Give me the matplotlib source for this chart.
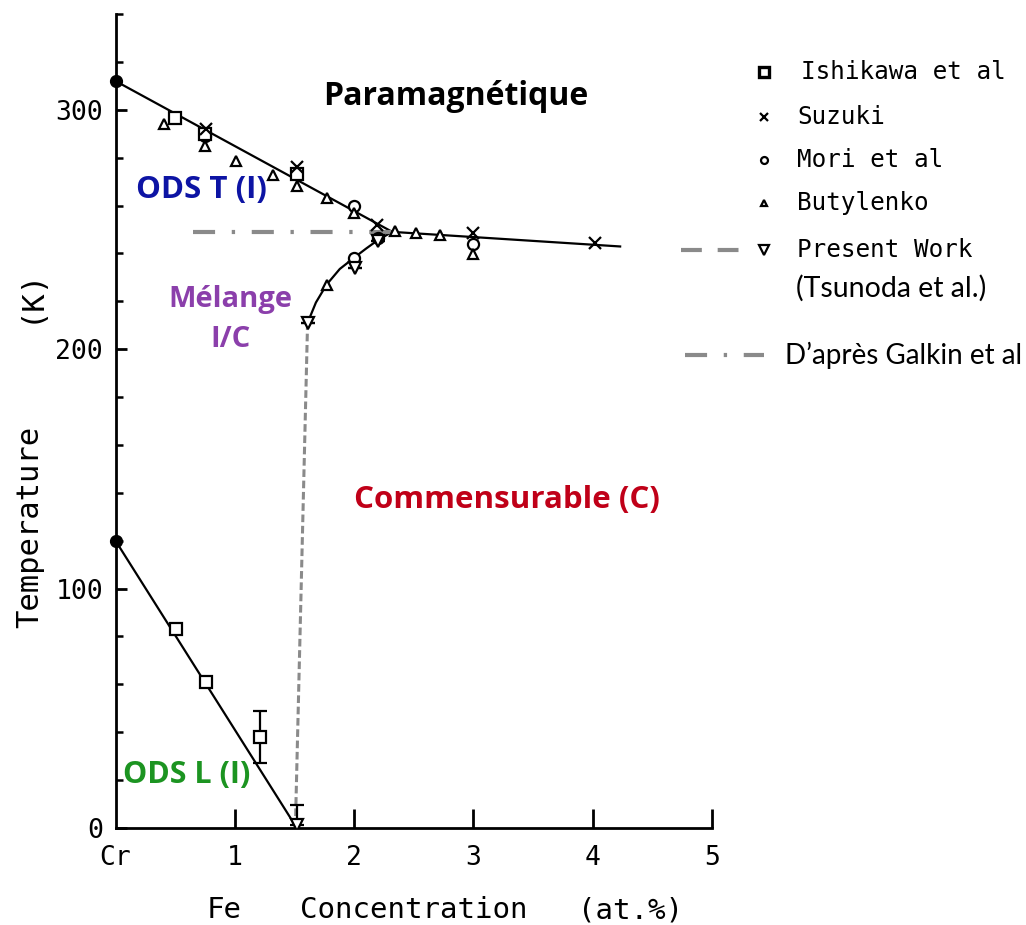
import matplotlib
matplotlib.use("Agg")
import matplotlib.pyplot as plt
from matplotlib.lines import Line2D
from matplotlib.ticker import MultipleLocator, FixedLocator

# ---------------- data ----------------
# Ishikawa et al (open squares)
ishi_x = [0.50, 0.75, 1.52, 0.51, 0.76, 1.21]
ishi_T = [296.6, 290.0, 273.0, 83.0, 61.0, 38.0]
ishi_err = [0, 0, 0, 0, 0, 11.0]
# Suzuki (crosses)
suz_x = [0.76, 1.52, 2.19, 3.00, 4.02]
suz_T = [292.0, 276.0, 252.0, 248.5, 244.3]
# Mori et al (open circles)
mori_x = [0.75, 2.00, 2.00, 2.20, 3.00]
mori_T = [289.0, 259.6, 238.0, 246.4, 244.0]
# Butylenko (open up triangles)
buty_x = [0.41, 0.75, 1.01, 1.32, 1.52, 1.77, 2.00, 2.34, 2.52, 2.72, 3.00, 1.77]
buty_T = [294.0, 285.0, 278.4, 272.9, 268.0, 263.0, 257.0, 249.2, 248.5, 247.8, 239.7, 227.0]
# Present work, Tsunoda et al (open down triangles)
pres_x = [1.61, 2.01, 2.20, 1.52]
pres_T = [211.0, 234.0, 245.0, 1.3]
pres_err_up = [0, 0, 0, 8.5]
# pure Cr end points (filled dots)
cr_x = [0.0, 0.0]
cr_T = [312.0, 120.0]

# phase boundaries
upper_x = [0.0, 2.32]
upper_T = [312.0, 249.0]
flat_x = [2.32, 4.23]
flat_T = [249.0, 242.9]
mix_x = [1.61, 1.68, 1.77, 1.88, 2.00, 2.10, 2.20, 2.32]
mix_T = [211.0, 219.5, 227.0, 233.5, 238.2, 242.0, 245.6, 249.0]
lower_x = [0.0, 1.52]
lower_T = [120.0, 0.0]
# Galkin (dash-dot) and vertical I/C limit (dashed)
galkin_x = [0.65, 2.32]
galkin_T = [249.0, 249.0]
vert_x = [1.51, 1.61]
vert_T = [5.0, 211.0]

yticks_major = [0, 100, 200, 300]
xticks_major = [1, 2, 3, 4, 5]
xtick_labels = ["1", "2", "3", "4", "5"]

legend_labels = ["Ishikawa et al", "Suzuki", "Mori et al", "Butylenko", "Present Work"]

# ---------------- figure ----------------
W, H = 1026, 925
fig = plt.figure(figsize=(W / 100, H / 100), dpi=100)
fig.patch.set_facecolor("white")

def fx(px):
    return px / W

def fy(py):
    return 1 - py / H

ax = fig.add_axes([fx(115.5), fy(828), fx(712) - fx(115.5), fy(14) - fy(828)])
ax.set_xlim(0, 5)
ax.set_ylim(0, 340)

mono = "DejaVu Sans Mono"
bold = "Open Sans"
grey = "#8a8a8a"

ax.spines["top"].set_visible(False)
ax.spines["right"].set_visible(False)
for s in ("left", "bottom"):
    ax.spines[s].set_linewidth(2.0)

ax.yaxis.set_major_locator(FixedLocator(yticks_major))
ax.yaxis.set_minor_locator(MultipleLocator(20))
ax.xaxis.set_major_locator(FixedLocator(xticks_major))
ax.set_xticklabels(xtick_labels)
ax.tick_params(axis="both", which="major", direction="in", length=8, width=2,
               labelsize=19)
ax.tick_params(axis="y", which="minor", direction="in", length=5, width=1.8)
ax.tick_params(axis="x", which="major", length=14, pad=12)
ax.tick_params(axis="y", which="major", pad=9)
for lab in ax.get_xticklabels() + ax.get_yticklabels():
    lab.set_fontfamily(mono)
ax.text(0.0, -0.037, "Cr", transform=ax.get_xaxis_transform(), ha="center",
        va="center", fontsize=19, fontfamily=mono)

# boundaries
lk = dict(color="black", lw=1.6, zorder=2)
ax.plot(upper_x, upper_T, **lk)
ax.plot(flat_x, flat_T, **lk)
ax.plot(mix_x, mix_T, **lk)
ax.plot(lower_x, lower_T, **lk)
ax.plot(galkin_x, galkin_T, color=grey, lw=3.0, dashes=(5.3, 4, 0.8, 4), zorder=3)
ax.plot(vert_x, vert_T, color=grey, lw=2.2, dashes=(2.5, 1.2), zorder=1)

# data points
mk = dict(linestyle="none", markerfacecolor="white", markeredgecolor="black",
          markeredgewidth=1.6, zorder=4)
ax.errorbar(ishi_x, ishi_T, yerr=ishi_err, fmt="s", ms=9, ecolor="black",
            elinewidth=1.6, capsize=5, capthick=1.6, **mk)
ax.plot(suz_x, suz_T, "x", ms=8, color="black", mew=1.6, zorder=5)
ax.plot(mori_x, mori_T, "o", ms=8, **mk)
ax.plot(buty_x, buty_T, "^", ms=7, **mk)
ax.errorbar(pres_x, pres_T, yerr=[[0] * len(pres_x), pres_err_up], fmt="v", ms=8,
            ecolor="black", elinewidth=1.6, capsize=5, capthick=1.6, **mk)
ax.plot(cr_x, cr_T, "o", ms=8.5, color="black", clip_on=False, zorder=6)

# region labels
ax.text(2.85, 305.5, "Paramagnétique", fontsize=23, fontweight="bold",
        fontfamily=bold, color="black", ha="center", va="center")
ax.text(0.72, 266.6, "ODS T (I)", fontsize=22.5, fontweight="bold",
        fontfamily=bold, color="#0d14a4", ha="center", va="center")
ax.text(0.96, 220.6, "Mélange", fontsize=21, fontweight="bold",
        fontfamily=bold, color="#8b3fab", ha="center", va="center")
ax.text(0.96, 204.0, "I/C", fontsize=21, fontweight="bold",
        fontfamily=bold, color="#8b3fab", ha="center", va="center")
ax.text(3.28, 137.0, "Commensurable (C)", fontsize=22.5, fontweight="bold",
        fontfamily=bold, color="#c00018", ha="center", va="center")
ax.text(0.60, 22.0, "ODS L (I)", fontsize=22, fontweight="bold",
        fontfamily=bold, color="#1c9421", ha="center", va="center")

# axis labels (typewriter-like, widely spaced)
fig.text(fx(30), fy(527), "Temperature", rotation=90, fontsize=22,
         fontfamily=mono, ha="center", va="center")
fig.text(fx(30), fy(295), "(K)", rotation=90, fontsize=22,
         fontfamily=mono, ha="center", va="center")
fig.text(fx(224), fy(910), "Fe", fontsize=21, fontfamily=mono, ha="center", va="center")
fig.text(fx(414), fy(910), "Concentration", fontsize=21, fontfamily=mono,
         ha="center", va="center")
fig.text(fx(630), fy(910), "(at.%)", fontsize=21, fontfamily=mono,
         ha="center", va="center")

# legend (drawn by hand to match its layout)
leg_rows = [72, 117, 160, 203, 250]
leg_markers = ["s", "x", "o", "^", "v"]
leg_sizes = [7, 6, 5, 5, 7]
leg_text_x = [801, 797, 797, 797, 797]
for py, m, sz, tx, lab in zip(leg_rows, leg_markers, leg_sizes, leg_text_x,
                              legend_labels):
    if m == "x":
        fig.add_artist(Line2D([fx(764)], [fy(py)], marker=m, ms=sz, color="black",
                              mew=1.6, linestyle="none"))
    else:
        fig.add_artist(Line2D([fx(764)], [fy(py)], marker=m, ms=sz,
                              markerfacecolor="white", markeredgecolor="black",
                              mew=2.4 if m == "s" else 1.6, linestyle="none"))
    fig.text(fx(tx), fy(py), lab, fontsize=17.5, fontfamily=mono,
             ha="left", va="center")
fig.add_artist(Line2D([fx(681), fx(739)], [fy(250), fy(250)], color=grey, lw=3.0,
                      dashes=(5.0, 3.8)))
fig.text(fx(796), fy(288), "(Tsunoda et al.)", fontsize=20.5, fontfamily="Lato",
         ha="left", va="center")
fig.add_artist(Line2D([fx(685), fx(764)], [fy(355), fy(355)], color=grey, lw=3.0,
                      dashes=(5.3, 4, 0.8, 4)))
fig.text(fx(785), fy(355), "D’après Galkin et al", fontsize=20, fontfamily="Lato",
         ha="left", va="center")

fig.savefig("out.png", dpi=100, facecolor="white")
